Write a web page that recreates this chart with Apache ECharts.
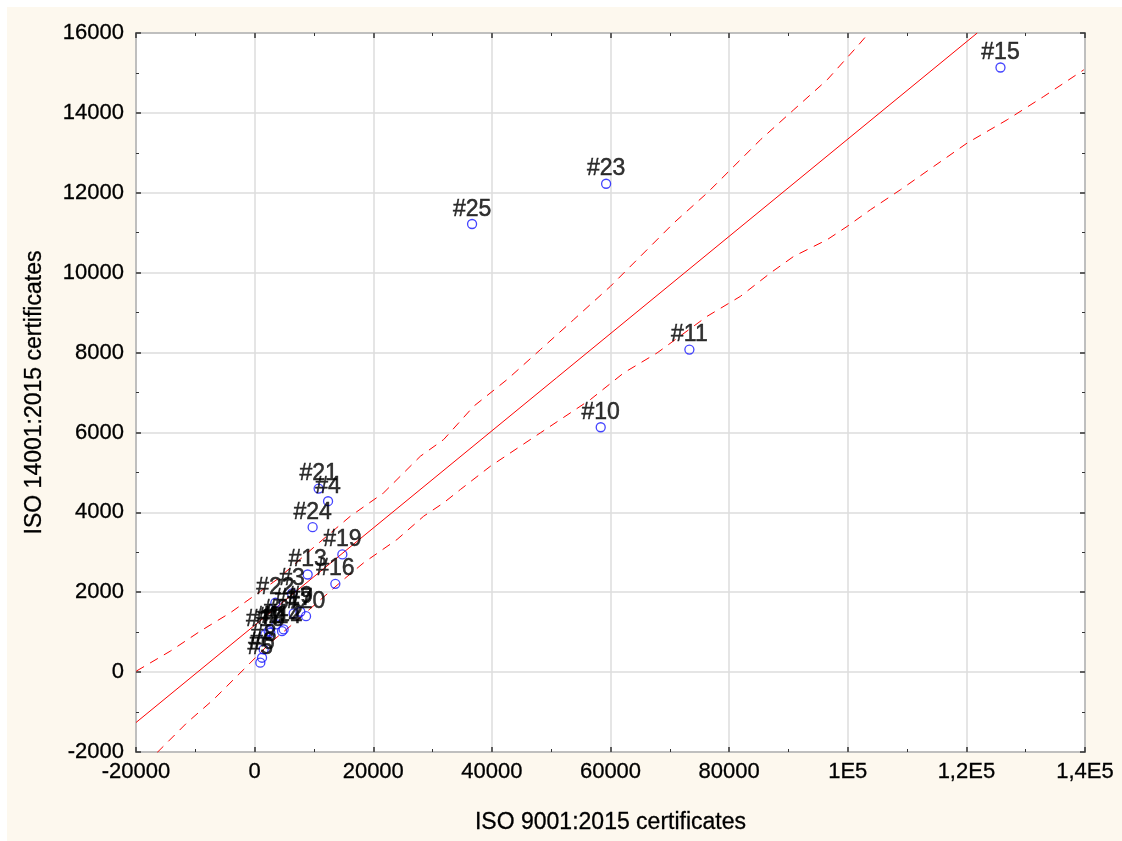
<!DOCTYPE html>
<html>
<head>
<meta charset="utf-8">
<script src="https://cdn.jsdelivr.net/npm/echarts@6/dist/echarts.min.js"></script>
<style>
html,body{margin:0;padding:0;background:#ffffff;}
#chart{width:1122px;height:841px;}
</style>
</head>
<body>
<div id="chart"></div>
<script>
// ---- data ----
const pointNames = ['#1','#2','#3','#4','#5','#6','#7','#8','#9','#10','#11','#12','#13','#14','#15','#16','#17','#18','#19','#20','#21','#22','#23','#24','#25'];
const iso9001 = [2360, 3660, 6310, 12380, 960, 1250, 2650, 1520, 7710, 58350, 73300, 4890, 8940, 4620, 125750, 13610, 6580, 1800, 14790, 8670, 10790, 3490, 59260, 9780, 36660];
const iso14001 = [1026, 1193, 1969, 4278, 235, 360, 986, 568, 1511, 6130, 8074, 1068, 2444, 1026, 15136, 2211, 1469, 943, 2945, 1401, 4596, 1736, 12226, 3628, 11218];

// fitted regression line (end points)
const fitX = [-20000, 121830];
const fitY = [-1262, 16000];

// upper confidence band
const upperX = [-19950, -14220, -9160, -4100, 3780, 10520, 16140, 21750, 27940, 31870, 36930, 42560, 48180, 53790, 59980, 65040, 70660, 76290, 85280, 90890, 96530, 101590, 103540];
const upperY = [25, 525, 1026, 1486, 2319, 3195, 3903, 4488, 5404, 5822, 6655, 7323, 8073, 8824, 9657, 10408, 11243, 11994, 13327, 14078, 14828, 15662, 15997];

// lower confidence band
const lowerX = [-16460, -11400, -6910, -1280, 2650, 6020, 10520, 15010, 18380, 24010, 28500, 31870, 34690, 39750, 48180, 56610, 62230, 67860, 76290, 81900, 86960, 90890, 96530, 99900, 103830, 108890, 114500, 120130, 126880, 133050, 139800];
const lowerY = [-2017, -1266, -683, 150, 736, 1151, 1736, 2319, 2737, 3320, 3903, 4238, 4571, 5154, 5990, 6823, 7491, 7991, 8907, 9407, 9992, 10408, 10826, 11158, 11576, 12076, 12660, 13245, 13828, 14411, 15079];

// axes
const xMin = -20000, xMax = 140000, xStep = 20000;
const yMin = -2000, yMax = 16000, yStep = 2000;
const xTickLabels = ['-20000','0','20000','40000','60000','80000','1E5','1,2E5','1,4E5'];
const yTickLabels = ['-2000','0','2000','4000','6000','8000','10000','12000','14000','16000'];
const xTitle = 'ISO 9001:2015 certificates';
const yTitle = 'ISO 14001:2015 certificates';

// ---- chart ----
const FONT = 'Arial, "Liberation Sans", sans-serif';
const TXT = '#000000';
const zip = (a, b) => a.map((v, i) => [v, b[i]]);

const tickCommon = {
  axisLine: {show: false, onZero: false},
  axisTick: {show: true, inside: true, length: 5, lineStyle: {color: '#333', width: 1.5}},
  minorTick: {show: true, splitNumber: 2, length: 3, lineStyle: {color: '#333', width: 1}}
};

const chart = echarts.init(document.getElementById('chart'), null, {renderer: 'canvas'});
chart.setOption({
  animation: false,
  backgroundColor: '#fdf8ee',
  graphic: [
    {type: 'rect', shape: {x: 0, y: 0, width: 1122, height: 7}, style: {fill: '#ffffff'}, silent: true, z: -10},
    {type: 'rect', shape: {x: 0, y: 0, width: 7, height: 841}, style: {fill: '#ffffff'}, silent: true, z: -10}
  ],
  grid: {
    left: 136, top: 33, right: 37, bottom: 89,
    show: true, backgroundColor: '#ffffff', borderColor: '#3a3a3a', borderWidth: 1.5
  },
  xAxis: [
    Object.assign({
      type: 'value', min: xMin, max: xMax, interval: xStep, position: 'bottom',
      name: xTitle, nameLocation: 'middle', nameGap: 59,
      nameTextStyle: {fontFamily: FONT, fontSize: 23, color: TXT, textBorderColor: TXT, textBorderWidth: 0.3},
      axisLabel: {
        margin: 9, fontFamily: FONT, fontSize: 22, color: TXT, textBorderColor: TXT, textBorderWidth: 0.3,
        formatter: v => xTickLabels[Math.round((v - xMin) / xStep)]
      },
      splitLine: {show: true, lineStyle: {color: '#dcdcdc', width: 1.5}}
    }, tickCommon),
    Object.assign({
      type: 'value', min: xMin, max: xMax, interval: xStep, position: 'top',
      axisLabel: {show: false}, splitLine: {show: false}
    }, tickCommon)
  ],
  yAxis: [
    Object.assign({
      type: 'value', min: yMin, max: yMax, interval: yStep, position: 'left',
      name: yTitle, nameLocation: 'middle', nameGap: 90,
      nameTextStyle: {fontFamily: FONT, fontSize: 23, color: TXT, textBorderColor: TXT, textBorderWidth: 0.3},
      axisLabel: {
        margin: 12, fontFamily: FONT, fontSize: 22, color: TXT, textBorderColor: TXT, textBorderWidth: 0.3,
        formatter: v => yTickLabels[Math.round((v - yMin) / yStep)]
      },
      splitLine: {show: true, lineStyle: {color: '#dcdcdc', width: 1.5}}
    }, tickCommon),
    Object.assign({
      type: 'value', min: yMin, max: yMax, interval: yStep, position: 'right',
      axisLabel: {show: false}, splitLine: {show: false}
    }, tickCommon)
  ],
  series: [
    {
      name: 'fit', type: 'line', data: zip(fitX, fitY), showSymbol: false, symbol: 'none',
      clip: true, lineStyle: {color: '#ff0000', width: 1}, z: 3
    },
    {
      name: 'upper', type: 'line', data: zip(upperX, upperY), showSymbol: false, symbol: 'none',
      clip: true, lineStyle: {color: '#ff0000', width: 1, type: [9, 7]}, z: 3
    },
    {
      name: 'lower', type: 'line', data: zip(lowerX, lowerY), showSymbol: false, symbol: 'none',
      clip: true, lineStyle: {color: '#ff0000', width: 1, type: [9, 7]}, z: 3
    },
    {
      name: 'points', type: 'scatter',
      data: iso9001.map((x, i) => ({value: [x, iso14001[i]], name: pointNames[i]})),
      symbol: 'circle', symbolSize: 9,
      itemStyle: {color: 'rgba(0,0,0,0)', borderColor: '#1515ff', borderWidth: 1.3},
      label: {
        show: true, position: 'top', distance: -2, formatter: '{b}',
        fontFamily: FONT, fontSize: 23, color: TXT, textBorderColor: TXT, textBorderWidth: 0.5
      },
      emphasis: {disabled: true},
      z: 4
    }
  ]
});
</script>
</body>
</html>
